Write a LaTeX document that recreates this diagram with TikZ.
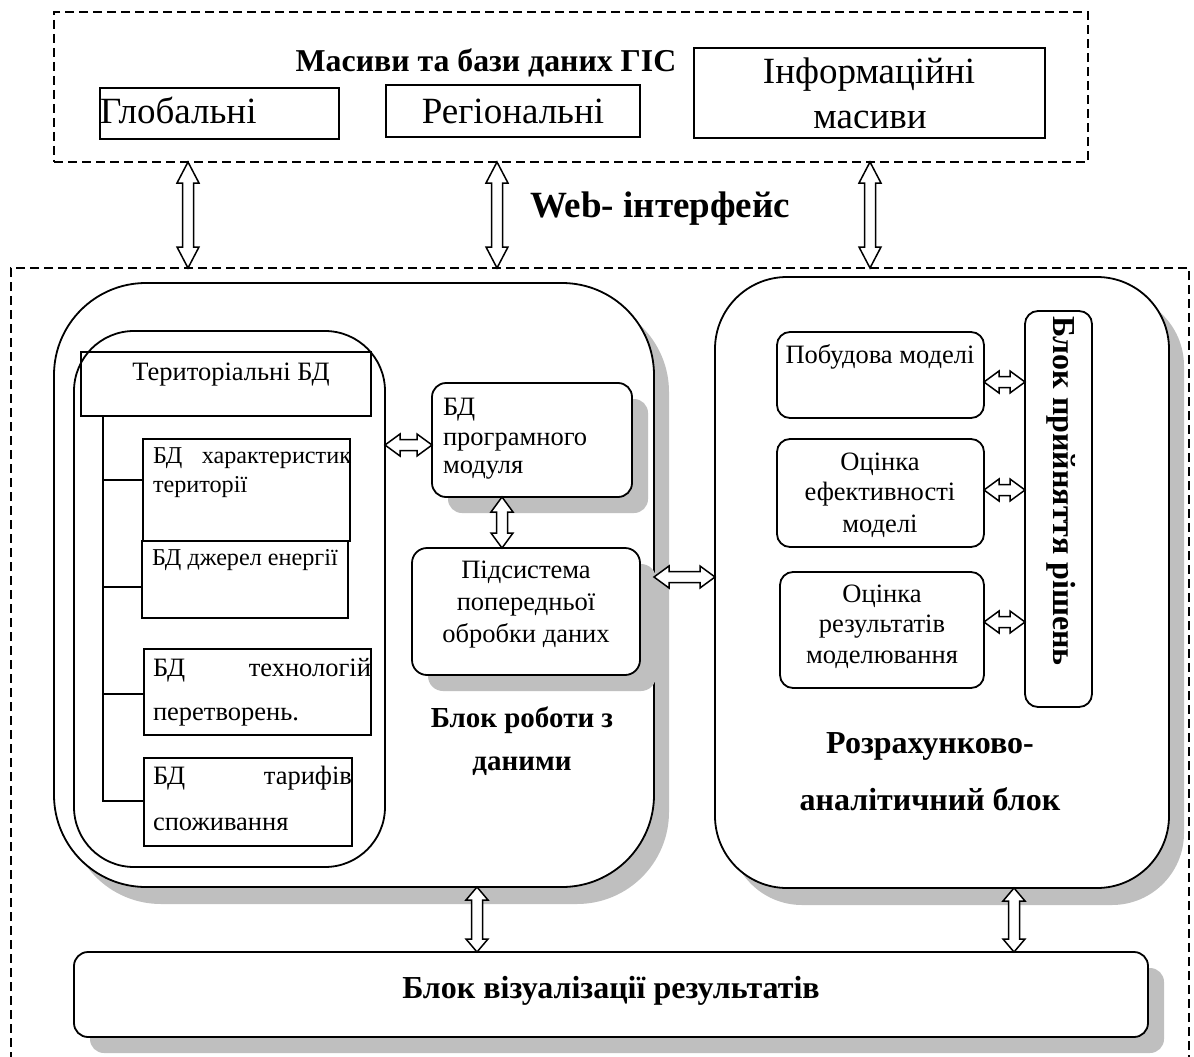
\documentclass[tikz,border=0pt]{standalone}
\usepackage{fontspec}
\setmainfont{Liberation Serif}
\usetikzlibrary{calc,fit,shadows}
\definecolor{shade}{HTML}{BFBFBF}

% font sizes (1 unit = 1pt)
\newcommand\fTopBox{\fontsize{37}{44}\selectfont}
\newcommand\fInner{\fontsize{26.5}{30}\selectfont}
\newcommand\fSmall{\fontsize{24.2}{28}\selectfont}
\newcommand\fTitle{\fontsize{31.8}{36}\selectfont\bfseries}
\newcommand\fWeb{\fontsize{37}{42}\selectfont\bfseries}
\newcommand\fHead{\fontsize{32}{37}\selectfont\bfseries}
\newcommand\fSub{\fontsize{29}{33}\selectfont\bfseries}

\tikzset{
  dashframe/.style={draw, line width=2.7pt, dash pattern=on 9pt off 5pt, inner sep=0pt, outer sep=0pt},
  plainbox/.style={draw, line width=1.8pt, inner sep=0pt, outer sep=0pt},
  rbox/.style={plainbox, rounded corners=13pt, fill=white},
  sbox/.style={rbox, general shadow={fill=shade, shadow xshift=16pt, shadow yshift=-16pt}},
  bigbox/.style={plainbox, fill=white, general shadow={fill=shade, shadow xshift=15pt, shadow yshift=-17pt}},
  dblarrow/.style={draw, fill=white, line width=1.5pt, line join=miter},
  treeline/.style={line width=1.8pt},
  lbl/.style={inner sep=0pt, outer sep=0pt, anchor=base},
  lblw/.style={lbl, anchor=base west},
  lble/.style={lbl, anchor=base east},
}

% vertical hollow double arrow: from point #2 down to point #3 (x of #2)
\newcommand\vdbl[3][15]{%
  \draw[dblarrow] let \p1=(#2), \p2=(#3) in
    (\x1,\y1) -- ++(11pt,-#1pt) -- ++(-5.5pt,0pt) -- (\x1+5.5pt,\y2+#1pt)
    -- ++(5.5pt,0pt) -- (\x1,\y2) -- ++(-11pt,#1pt) -- ++(5.5pt,0pt)
    -- (\x1-5.5pt,\y1-#1pt) -- ++(-5.5pt,0pt) -- cycle;}
% horizontal hollow double arrow: from point #2 right to point #3 (y of #2)
\newcommand\hdbl[3][15]{%
  \draw[dblarrow] let \p1=(#2), \p2=(#3) in
    (\x1,\y1) -- ++(#1pt,11pt) -- ++(0pt,-5.5pt) -- (\x2-#1pt,\y1+5.5pt)
    -- ++(0pt,5.5pt) -- (\x2,\y1) -- ++(-#1pt,-11pt) -- ++(0pt,5.5pt)
    -- (\x1+#1pt,\y1-5.5pt) -- ++(0pt,-5.5pt) -- cycle;}

\begin{document}
\begin{tikzpicture}[x=1pt,y=-1pt]
\useasboundingbox (0,0) rectangle (1194,1057);
\clip (0,0) rectangle (1194,1057);

% ---------- GIS data sources ----------
\node[dashframe, fit={(54,12) (1088,162)}] (gis) {};
\node[lbl, font=\fTitle] (gistitle) at (486,71) {Масиви та бази даних ГІС};
\node[plainbox, fit={(100,88) (339,139)}] (glob) {};
\node[lblw, font=\fTopBox] (globtxt) at (100,123) {Глобальні};
\node[plainbox, fit={(386,85) (640,137)}] (reg) {};
\node[lbl, font=\fTopBox] (regtxt) at (513,123) {Регіональні};
\node[plainbox, fit={(694,48) (1045,138)}] (info) {};
\node[lbl, font=\fTopBox] (infotxta) at (869,83) {Інформаційні};
\node[lbl, font=\fTopBox] (infotxtb) at (870,128) {масиви};

\node[lblw, font=\fWeb] (web) at (530,217) {Web- інтерфейс};

% ---------- working system frame ----------
\node[dashframe, fit={(11,268) (1189,1090)}] (work) {};

\coordinate (xa) at (188,0);
\coordinate (xb) at (497,0);
\coordinate (xc) at (870,0);
\vdbl[21]{gis.south -| xa}{work.north -| xa}
\vdbl[21]{gis.south -| xb}{work.north -| xb}
\vdbl[21]{gis.south -| xc}{work.north -| xc}

% ---------- data block ----------
\node[bigbox, rounded corners=92pt, fit={(54,283) (654,887)}] (datablk) {};
\node[plainbox, rounded corners=60pt, fit={(74,331) (385,867)}] (terrgrp) {};
\node[plainbox, fit={(81,352) (371,416)}] (terr) {};
\node[lbl, font=\fInner] (terrtxt) at (231,380) {Територіальні БД};

\node[plainbox, fit={(143,439) (350,541)}] (bdchar) {};
\node[lblw, font=\fSmall] (bdchara) at (153,463) {БД};
\node[lble, font=\fSmall] (bdcharb) at (351,463) {характеристик};
\node[lblw, font=\fSmall] (bdcharc) at (153,492) {території};

\node[plainbox, fit={(142,541) (348,618)}] (bdjer) {};
\node[lblw, font=\fSmall] (bdjertxt) at (152,565) {БД джерел енергії};

\node[plainbox, fit={(144,649) (371,735)}] (bdtech) {};
\node[lblw, font=\fInner] (bdtecha) at (153,676) {БД};
\node[lble, font=\fInner] (bdtechb) at (371,676) {технологій};
\node[lblw, font=\fInner] (bdtechc) at (153,720) {перетворень.};

\node[plainbox, fit={(144,758) (352,846)}] (bdtar) {};
\node[lblw, font=\fInner] (bdtara) at (153,784) {БД};
\node[lble, font=\fInner] (bdtarb) at (352,784) {тарифів};
\node[lblw, font=\fInner] (bdtarc) at (153,830) {споживання};

% tree connecting the territorial databases
\coordinate (tree) at (103,0);
\draw[treeline] (terr.south -| tree) |- (bdtar.west |- 0,801);
\draw[treeline] (tree |- 0,480) -- (bdchar.west |- 0,480);
\draw[treeline] (tree |- 0,587) -- (bdjer.west |- 0,587);
\draw[treeline] (tree |- 0,694) -- (bdtech.west |- 0,694);

\node[sbox, rounded corners=14pt, fit={(432,383) (632,497)}] (bdprog) {};
\node[lblw, font=\fInner] (bdproga) at (443,415) {БД};
\node[lblw, font=\fInner] (bdprogb) at (443,445) {програмного};
\node[lblw, font=\fInner] (bdprogc) at (443,473) {модуля};

\node[sbox, rounded corners=15pt, fit={(412,548) (640,675)}] (prep) {};
\node[lbl, font=\fInner] (prepa) at (526,578) {Підсистема};
\node[lbl, font=\fInner] (prepb) at (526,610) {попередньої};
\node[lbl, font=\fInner] (prepc) at (526,642) {обробки даних};

\node[lbl, font=\fSub] (datatxta) at (522,727) {Блок роботи з};
\node[lbl, font=\fSub] (datatxtb) at (522,770) {даними};

\coordinate (ha) at (0,445);
\coordinate (va) at (502,0);
\hdbl{terrgrp.east |- ha}{bdprog.west |- ha}
\vdbl{bdprog.south -| va}{prep.north -| va}

% ---------- computation block ----------
\node[bigbox, rounded corners=72pt, fit={(715,277) (1169,888)}] (calcblk) {};
\node[rbox, fit={(777,332) (984,418)}] (build) {};
\node[lbl, font=\fInner] (buildtxt) at (880,363) {Побудова моделі};
\node[rbox, fit={(777,439) (984,547)}] (effic) {};
\node[lbl, font=\fInner] (effica) at (880,470) {Оцінка};
\node[lbl, font=\fInner] (efficb) at (880,500) {ефективності};
\node[lbl, font=\fInner] (efficc) at (880,532) {моделі};
\node[rbox, fit={(780,572) (984,688)}] (resul) {};
\node[lbl, font=\fInner] (resula) at (882,602) {Оцінка};
\node[lbl, font=\fInner] (resulb) at (882,632) {результатів};
\node[lbl, font=\fInner] (resulc) at (882,663) {моделювання};

\node[rbox, fit={(1025,311) (1092,707)}] (decide) {};
\node[inner sep=0pt, rotate=-90, font=\fontsize{32}{36}\selectfont\bfseries] (decidetxt) at (1061,491) {Блок прийняття рішень};

\coordinate (hb) at (0,382);
\coordinate (hc) at (0,490);
\coordinate (hd) at (0,622);
\hdbl{build.east |- hb}{decide.west |- hb}
\hdbl{effic.east |- hc}{decide.west |- hc}
\hdbl{resul.east |- hd}{decide.west |- hd}

\node[lbl, font=\fHead] (calctxta) at (930,753) {Розрахунково-};
\node[lbl, font=\fHead] (calctxtb) at (930,810) {аналітичний блок};

\coordinate (he) at (0,577);
\hdbl{datablk.east |- he}{calcblk.west |- he}

% ---------- visualisation block ----------
\node[sbox, rounded corners=14pt, fit={(74,952) (1148,1037)}] (vis) {};
\node[lbl, font=\fHead] (vistxt) at (611,998) {Блок візуалізації результатів};

\coordinate (vb) at (477,0);
\coordinate (vc) at (1014,0);
\vdbl[13]{datablk.south -| vb}{vis.north -| vb}
\vdbl[13]{calcblk.south -| vc}{vis.north -| vc}
\end{tikzpicture}
\end{document}
